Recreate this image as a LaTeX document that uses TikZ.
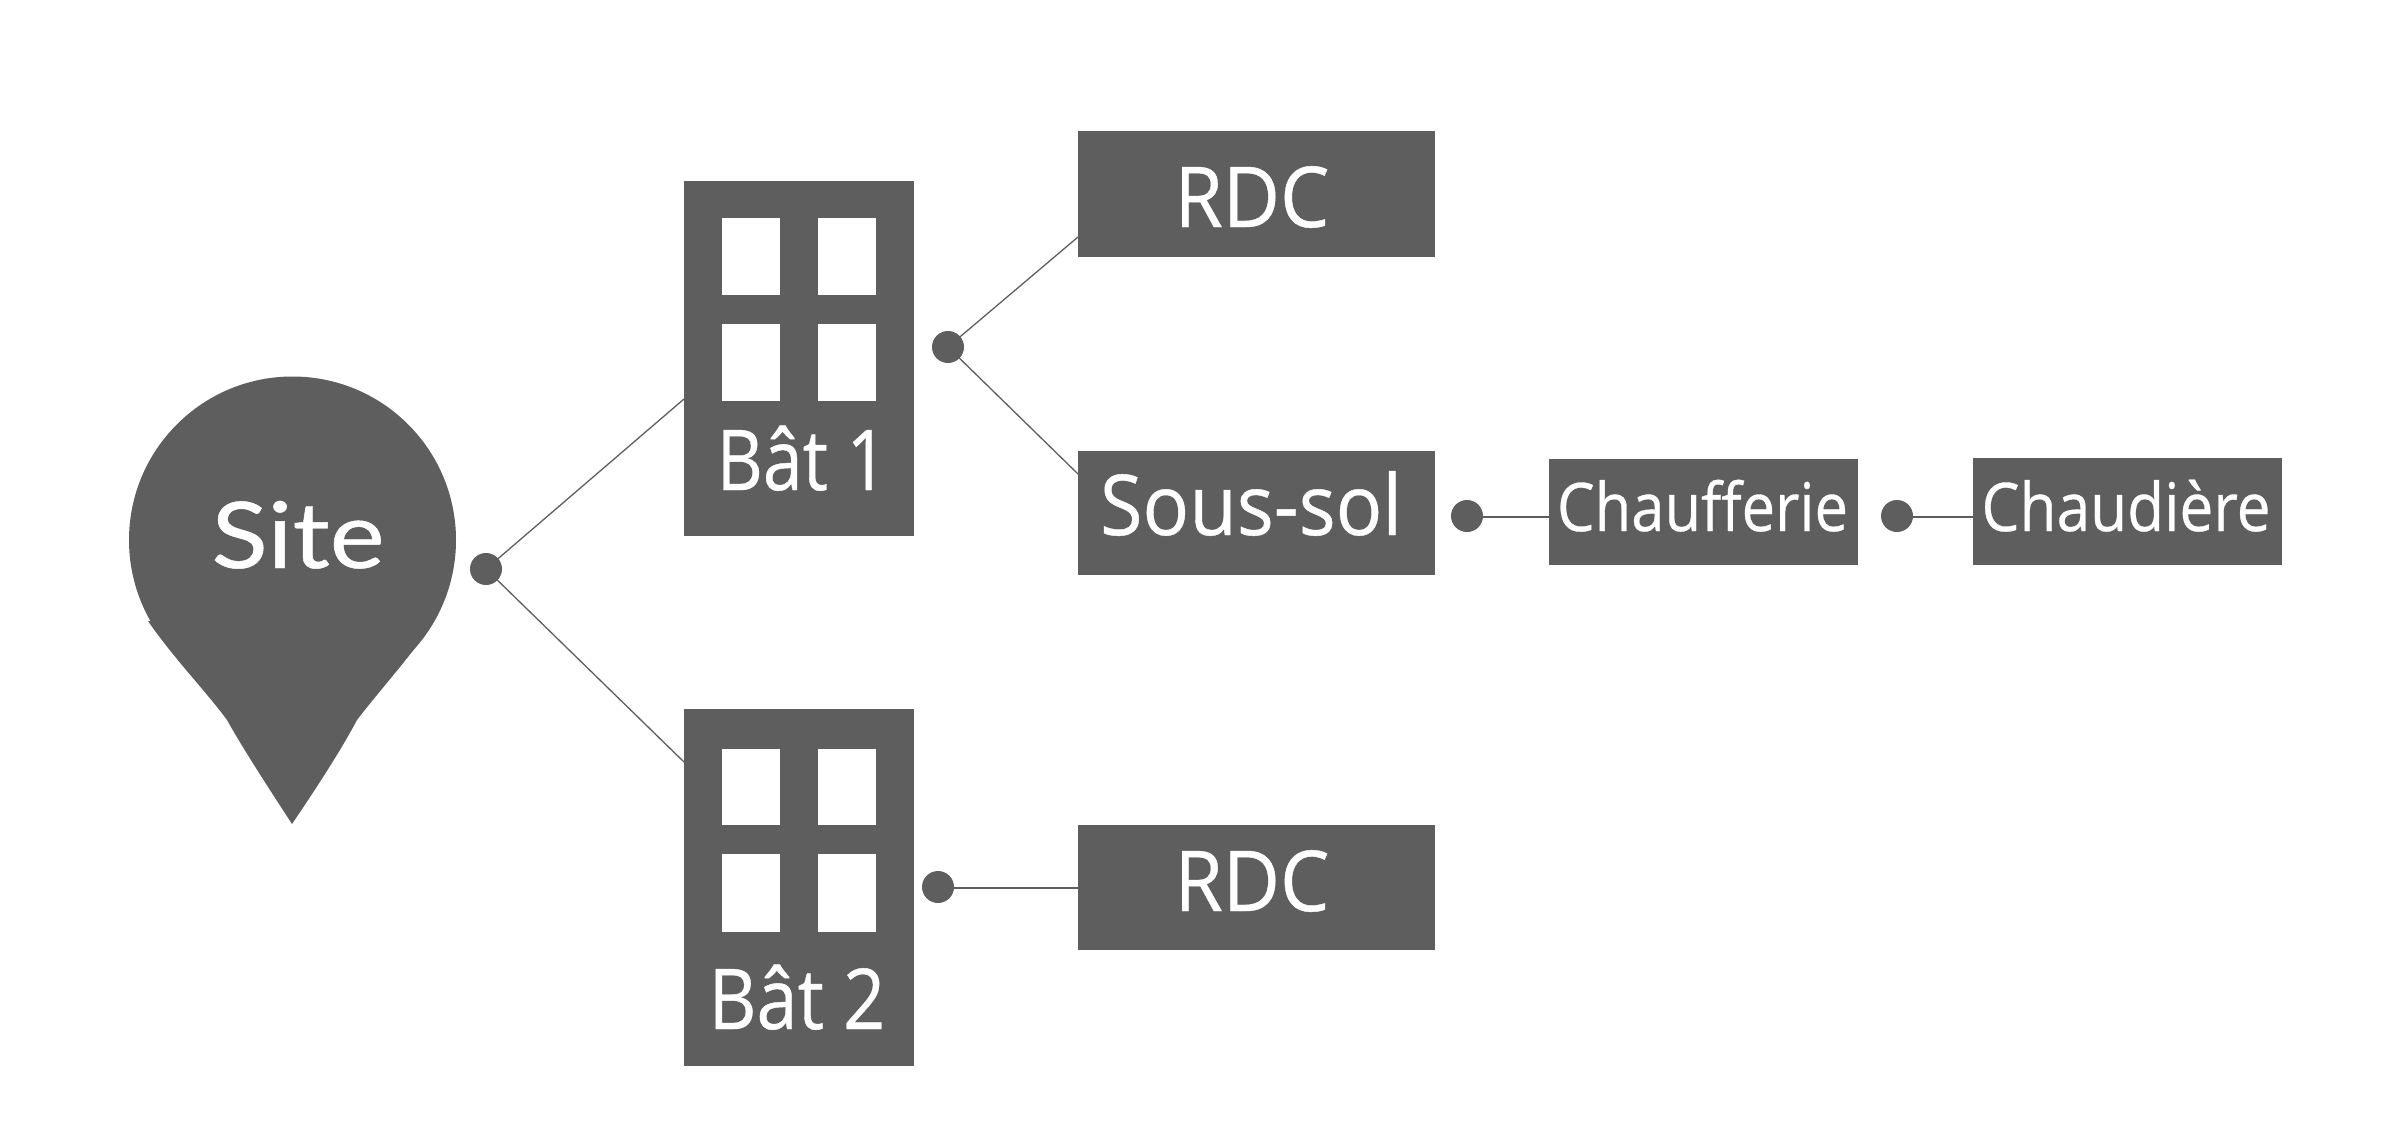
\documentclass[tikz,border=0pt]{standalone}
\usepackage{graphicx}
\usepackage{fontspec}
\setmainfont[FakeBold=0.5]{Open Sans}
\newfontfamily\sitefont[FakeBold=0.5]{Lato}
\definecolor{darkgrey}{HTML}{5E5E5E}
\newcommand{\fitw}[2]{\resizebox{#1pt}{\height}{#2}}
\tikzset{
  box/.style={fill=darkgrey,draw=none,inner sep=0pt,outer sep=0pt},
  winbox/.style={fill=white,draw=none,inner sep=0pt,outer sep=0pt,minimum width=58pt},
  dotnode/.style={circle,fill=darkgrey,draw=none,inner sep=0pt,outer sep=0pt,minimum size=32pt},
  link/.style={draw=darkgrey,line width=1.3pt},
  txt/.style={text=white,anchor=base,inner sep=0pt,outer sep=0pt},
  big/.style={txt,font=\fontsize{84}{84}\selectfont},
  small/.style={txt,font=\fontsize{67}{67}\selectfont},
}
\begin{document}
\begin{tikzpicture}[x=1pt,y=-1pt]
\useasboundingbox (0,0) rectangle (2396,1145);
% pin
\fill[darkgrey] (292.5,540) circle (163.5);
\fill[darkgrey] (292,824) .. controls (270,790) and (245,752) .. (227,720)
  .. controls (205,690) and (175,660) .. (148,621) -- (427,631)
  .. controls (410,657) and (380,690) .. (357,720)
  .. controls (340,752) and (315,790) .. (292,824) -- cycle;
\node[txt,font=\sitefont\fontsize{92}{92}\selectfont] (site) at (298,568) {\fitw{173}{Site}};
% boxes
\node[box,minimum width=230pt,minimum height=355pt] (bat1) at (799,358.2) {};
\node[box,minimum width=230pt,minimum height=357pt] (bat2) at (799,887) {};
\node[box,minimum width=357pt,minimum height=126pt] (rdc1) at (1256.5,194) {};
\node[box,minimum width=357pt,minimum height=124pt] (soussol) at (1256.5,512.7) {};
\node[box,minimum width=357pt,minimum height=125pt] (rdc2) at (1256.5,887) {};
\node[box,minimum width=309pt,minimum height=106pt] (chauff) at (1703.5,512) {};
\node[box,minimum width=309pt,minimum height=107pt] (chaud) at (2127.5,511.5) {};
% windows
\node[winbox,minimum height=77pt] (w11) at (751,256.5) {};
\node[winbox,minimum height=77pt] (w12) at (847,256.5) {};
\node[winbox,minimum height=77pt] (w13) at (751,362.5) {};
\node[winbox,minimum height=77pt] (w14) at (847,362.5) {};
\node[winbox,minimum height=76pt] (w21) at (751,786.5) {};
\node[winbox,minimum height=76pt] (w22) at (847,786.5) {};
\node[winbox,minimum height=78pt] (w23) at (751,892.5) {};
\node[winbox,minimum height=78pt] (w24) at (847,892.5) {};
% labels
\node[big] (tb1) at (802,490) {\fitw{171}{Bât 1}};
\node[big] (tb2) at (797,1029) {\fitw{177}{Bât 2}};
\node[big] (tr1) at (1252,227) {\fitw{155}{RDC}};
\node[big] (tss) at (1251,535) {\fitw{302}{Sous-sol}};
\node[big] (tr2) at (1252,911) {\fitw{155}{RDC}};
\node[small] (tcf) at (1702.5,531) {\fitw{291}{Chaufferie}};
\node[small] (tcd) at (2126,531) {\fitw{289}{Chaudière}};
% dots
\node[dotnode] (d0) at (486,569) {};
\node[dotnode] (d1) at (948,347) {};
\node[dotnode] (d2) at (938,887) {};
\node[dotnode] (d3) at (1467,516) {};
\node[dotnode] (d4) at (1897,516) {};
% connector ends on box edges
\coordinate (e1) at (bat1.west |- 0,399);
\coordinate (e2) at (bat2.west |- 0,762);
\coordinate (e3) at (rdc1.west |- 0,237);
\coordinate (e4) at (soussol.west |- 0,474);
\coordinate (e5) at (rdc2.west |- 0,888);
\coordinate (e6) at (chauff.west |- 0,517);
\coordinate (e7) at (chaud.west |- 0,517);
\draw[link] (d0.center) -- (e1);
\draw[link] (d0.center) -- (e2);
\draw[link] (d1.center) -- (e3);
\draw[link] (d1.center) -- (e4);
\draw[link] (d2.center |- e5) -- (e5);
\draw[link] (d3.center |- e6) -- (e6);
\draw[link] (d4.center |- e7) -- (e7);
\end{tikzpicture}
\end{document}
